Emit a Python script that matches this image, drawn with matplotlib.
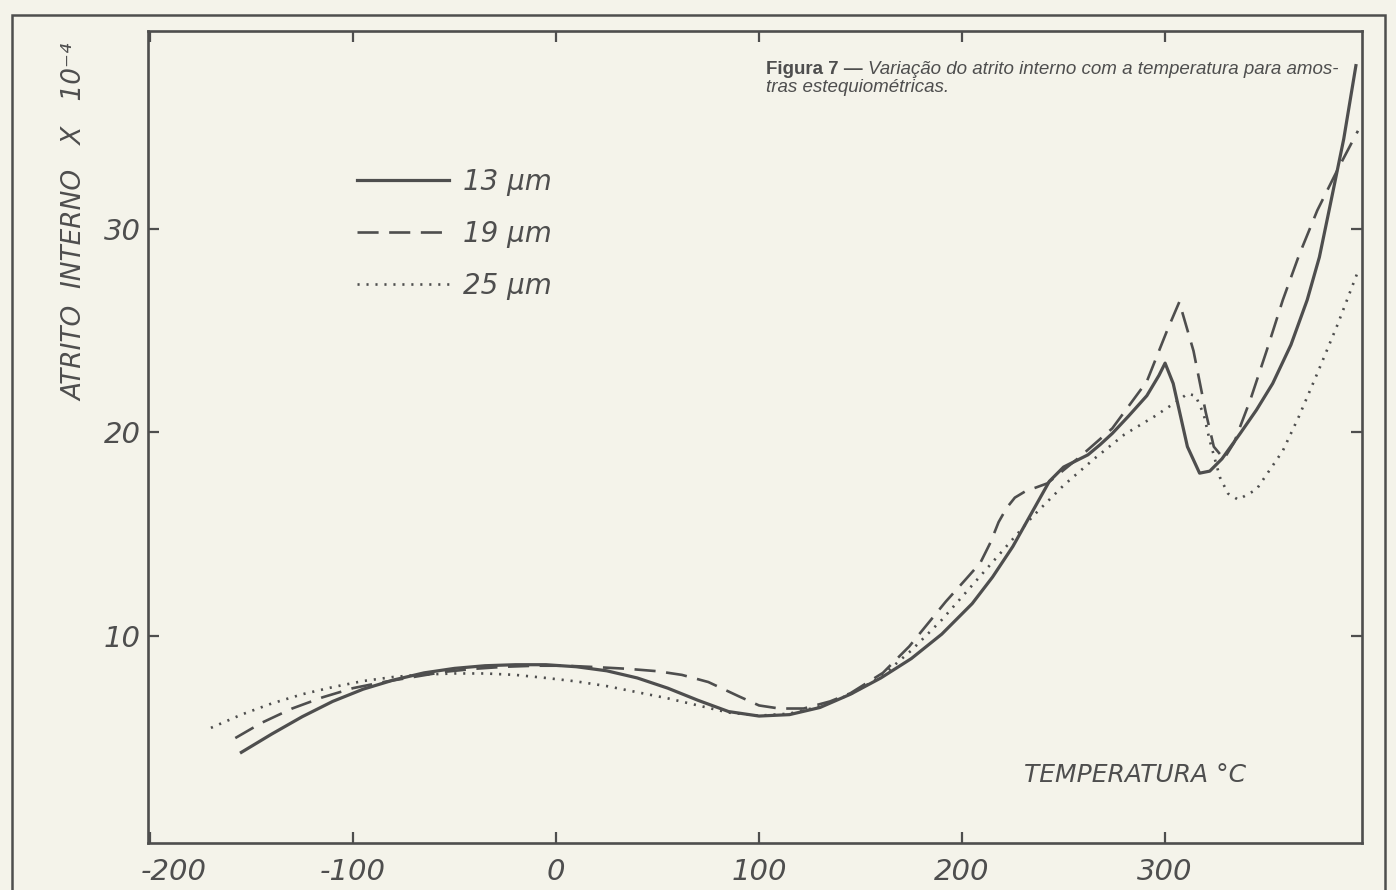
import numpy as np
import matplotlib.pyplot as plt
from matplotlib.patches import Rectangle
import matplotlib.transforms as mtransforms

# Data (temperature in C, internal friction x 1e-4)
t_13 = [-155, -140, -125, -110, -95, -80, -65, -50, -35, -20, -5, 10, 25, 40, 55, 70,
        85, 100, 115, 130, 145, 160, 175, 190, 205, 215, 225, 234, 243, 250, 256, 262, 268,
        274, 282, 291, 297, 300, 304, 311, 317, 322, 328, 337, 345, 353, 362, 370, 376,
        381, 388, 394]
q_13 = [4.3, 5.2, 6.05, 6.8, 7.4, 7.85, 8.2, 8.42, 8.55, 8.6, 8.6, 8.5, 8.3, 7.95, 7.45, 6.85,
        6.3, 6.08, 6.15, 6.5, 7.15, 7.95, 8.9, 10.1, 11.6, 12.9, 14.4, 16.0, 17.6, 18.3, 18.6, 18.9, 19.4,
        19.95, 20.8, 21.8, 22.8, 23.4, 22.4, 19.3, 18.0, 18.1, 18.7, 19.95, 21.1, 22.4, 24.3, 26.5, 28.6,
        31.0, 34.4, 38.0]

t_19 = [-158, -145, -130, -115, -100, -85, -70, -55, -40, -25, -10, 5, 20, 35, 50, 62,
        75, 90, 100, 110, 122, 135, 145, 161, 174, 183, 192, 201, 209, 214, 218, 222, 226,
        231, 242, 258, 274, 291, 301, 307, 314, 320, 324, 329, 334, 342, 350, 358, 366,
        375, 385, 395]
q_19 = [5.0, 5.75, 6.45, 7.0, 7.45, 7.75, 8.0, 8.25, 8.4, 8.5, 8.55, 8.55, 8.48, 8.4, 8.28, 8.1,
        7.75, 7.05, 6.6, 6.45, 6.45, 6.8, 7.2, 8.2, 9.5, 10.6, 11.7, 12.7, 13.6, 14.6, 15.6, 16.3, 16.8,
        17.1, 17.5, 18.8, 20.2, 22.5, 25.0, 26.4, 24.0, 21.0, 19.3, 18.7, 19.5, 21.6, 24.0, 26.5, 28.7,
        30.9, 32.9, 34.8]

t_25 = [-170, -155, -140, -125, -110, -95, -80, -65, -50, -35, -20, -5, 10, 25, 40, 55,
        70, 85, 100, 115, 130, 145, 160, 175, 190, 205, 220, 235, 250, 265, 280, 295,
        307, 311, 315, 319, 322, 327, 331, 336, 345, 358, 366, 375, 385, 395]
q_25 = [5.5, 6.15, 6.7, 7.15, 7.5, 7.8, 8.0, 8.12, 8.17, 8.17, 8.1, 7.95, 7.78, 7.55, 7.25, 6.95,
        6.6, 6.25, 6.1, 6.2, 6.55, 7.15, 8.0, 9.3, 10.8, 12.5, 14.2, 15.9, 17.4, 18.7, 19.9, 20.8,
        21.6, 21.9, 21.8, 20.9, 19.6, 17.8, 17.0, 16.7, 17.2, 19.1, 20.8, 22.9, 25.3, 27.9]

x_ticks = [-200, -100, 0, 100, 200, 300]
x_labels = ['-200', '-100', '0', '100', '200', '300']
y_ticks = [10, 20, 30]
y_labels = ['10', '20', '30']

paper = '#f4f3ea'
ink = '#4e4e4e'
hand = dict(family='DejaVu Sans', style='italic', color=ink)

fig = plt.figure(figsize=(13.96, 8.90), dpi=100, facecolor=paper)
ax = fig.add_axes([148/1396, 1 - 843/890, (1362-148)/1396, (843-31)/890])
ax.set_facecolor(paper)

# outer frame of the page
fig.patches.append(Rectangle((12/1396, -0.02), (1385-12)/1396, 1.02 - 15/890,
                             transform=fig.transFigure, fill=False,
                             edgecolor=ink, lw=1.8))

ax.plot(t_13, q_13, color=ink, lw=2.3, ls='-', label='13 µm')
ax.plot(t_19, q_19, color=ink, lw=1.9, ls=(0, (8, 4)), label='19 µm')
ax.plot(t_25, q_25, color=ink, lw=1.9, ls=(0, (0.8, 2.6)), label='25 µm')

ax.set_xlim(-201, 397)
ax.set_ylim(-0.15, 39.7)

for s in ax.spines.values():
    s.set_color(ink)
    s.set_linewidth(1.9)

ax.set_xticks(x_ticks, x_labels)
ax.set_yticks(y_ticks, y_labels)
ax.tick_params(axis='both', direction='in', length=8, width=1.6, color=ink,
               top=True, right=True, labelsize=21, labelcolor=ink)
ax.tick_params(axis='x', pad=11)
ax.tick_params(axis='y', pad=5)
for lab in ax.get_xticklabels() + ax.get_yticklabels():
    lab.set_fontstyle('italic')
# the -200 label sits a little to the right of the corner
off = mtransforms.ScaledTranslation(24/100, 0, fig.dpi_scale_trans)
lab0 = ax.get_xticklabels()[0]
lab0.set_transform(lab0.get_transform() + off)

fig.text(75/1396, 1 - 222/890, 'ATRITO  INTERNO   X   10⁻⁴', rotation=90,
         ha='center', va='center', fontsize=19, **hand)
fig.text(1135/1396, 1 - 775/890, 'TEMPERATURA °C', ha='center', va='center',
         fontsize=18, **hand)

leg = ax.legend(loc='upper left', bbox_to_anchor=((357-148)/1214, 1 - (168-31)/812),
                frameon=False, borderpad=0, borderaxespad=0, handlelength=3.3,
                handletextpad=0.5, labelspacing=0.86,
                prop=dict(family='DejaVu Sans', style='italic', size=20))
for txt in leg.get_texts():
    txt.set_color(ink)

# caption: bold lead-in followed by italic text
renderer = fig.canvas.get_renderer()
cap_y = 1 - 70/890
t1 = fig.text(766/1396, cap_y, 'Figura 7 — ', fontsize=13.5, fontweight='bold',
              family='Liberation Sans', color=ink, va='center')
bb = t1.get_window_extent(renderer)
fig.text(bb.x1/1396, cap_y, 'Variação do atrito interno com a temperatura para amos-',
         fontsize=13.5, style='italic', family='Liberation Sans', color=ink, va='center')
fig.text(766/1396, 1 - 88/890, 'tras estequiométricas.', fontsize=13.5, style='italic',
         family='Liberation Sans', color=ink, va='center')

fig.savefig('out.png', dpi=100, facecolor=paper)
